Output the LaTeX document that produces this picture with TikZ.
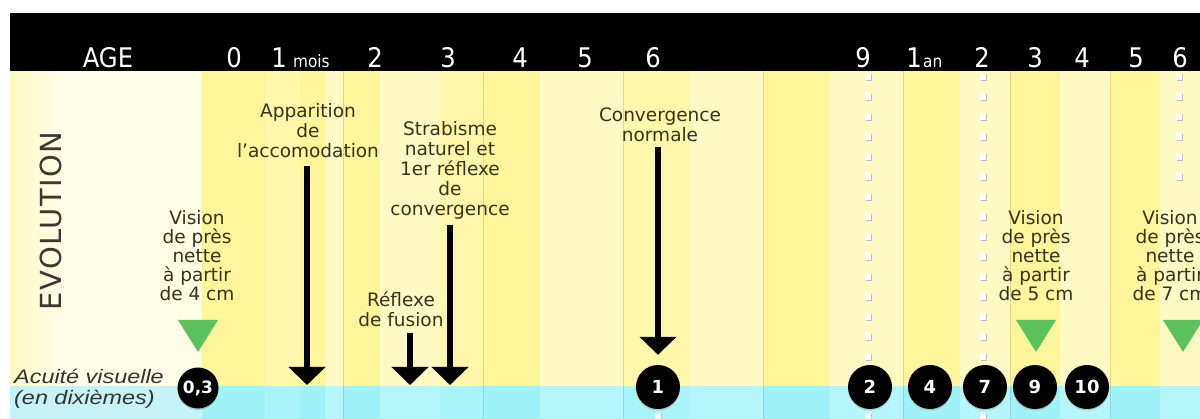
\documentclass[tikz,border=0pt]{standalone}
\usepackage{fontspec}
\setmainfont{DejaVu Sans}
\newfontfamily\agefont{DejaVu Sans Condensed}
\newfontfamily\acufont{Liberation Sans}
\usetikzlibrary{arrows.meta,shadows}

\definecolor{ya}{HTML}{FFF59A}
\definecolor{yb}{HTML}{FFF7AA}
\definecolor{yc}{HTML}{FFFAC3}
\definecolor{cream}{HTML}{FFFDE6}
\definecolor{ca}{HTML}{9FF3F8}
\definecolor{cb}{HTML}{A9F4F9}
\definecolor{cc}{HTML}{B5F6FA}
\definecolor{cpale}{HTML}{C6F3F5}
\definecolor{lblc}{HTML}{34341A}
\definecolor{evoc}{HTML}{3A3A32}
\definecolor{tric}{HTML}{5BC25E}

\tikzset{
  lbl/.style={align=center, inner sep=0pt, text=lblc,
    font=\fontsize{18.5}{20}\selectfont},
  vis/.style={align=center, inner sep=0pt, text=lblc,
    font=\fontsize{18.5}{19}\selectfont},
  agenum/.style={anchor=base, inner sep=0pt, text=white,
    font=\agefont\fontsize{27}{28}\selectfont},
  ageunit/.style={anchor=base west, inner sep=0pt, text=white,
    font=\agefont\fontsize{17}{18}\selectfont},
  circ/.style={circle, fill=black, minimum size=44pt, inner sep=0pt,
    text=white, font=\bfseries\fontsize{18}{18}\selectfont,
    drop shadow={opacity=0.35, shadow xshift=0pt, shadow yshift=-1.5pt}},
  bigarrow/.style={line width=6pt, draw=black,
    -{Triangle[width=36pt, length=18pt]}},
  dotline/.style={draw=white, line width=6pt, dash pattern=on 7pt off 13pt},
  dotshade/.style={draw=black!25, line width=6pt, dash pattern=on 7pt off 13pt},
  gridline/.style={draw=black, draw opacity=0.12, line width=1pt},
  marker/.style={fill=tric},
}

\begin{document}
\begin{tikzpicture}[x=1pt, y=-1pt]
\useasboundingbox (0,0) rectangle (1200,419);
\clip (0,0) rectangle (1200,419);
\fill[white] (0,0) rectangle (1200,419);

% left legend column
\shade[left color=yb!60!cream, right color=cream] (10,71) rectangle (60,386);
\fill[cream] (60,71) rectangle (202,386);
\fill[cpale] (10,386) rectangle (202,419);

% yellow and cyan stripes of the time scale
\foreach \xa/\xb/\ycol/\ccol in {
  202/265/ya/ca, 265/300/yb/cb, 300/325/ya/ca, 325/343/yc/cc,
  343/380/ya/ca, 380/440/yc/cc, 440/483/yb/cb, 483/540/ya/ca,
  540/623/yc/cc, 623/690/yb/cb, 690/763/yc/cc, 763/830/ya/ca,
  830/903/yc/cc, 903/960/ya/ca, 960/1010/yc/cc, 1010/1060/ya/ca,
  1060/1110/yc/cc, 1110/1160/ya/ca, 1160/1200/yc/cc} {
  \fill[\ycol] (\xa,71) rectangle (\xb,386);
  \fill[\ccol] (\xa,386) rectangle (\xb,419);
}

% thin column separators
\foreach \x in {343,483,623,763,903,1010,1110}
  \draw[gridline] (\x,71) -- (\x,419);

% dotted white guides
\coordinate (g9a) at (868,73);  \coordinate (g9b) at (868,419);
\coordinate (g2a) at (983,73);  \coordinate (g2b) at (983,419);
\coordinate (g6a) at (1179,73); \coordinate (g6b) at (1179,182);
\coordinate (g1a) at (658,413); \coordinate (g1b) at (658,420);
\foreach \p/\q in {g9a/g9b, g2a/g2b, g6a/g6b, g1a/g1b} {
  \draw[dotshade] ([shift={(1,1)}]\p) -- ([shift={(1,1)}]\q);
  \draw[dotline] (\p) -- (\q);
}

% header band
\fill[black] (10,13) rectangle (1200,71);
\node[agenum] (hage) at (108,68) {AGE};
\node[agenum] (h0) at (234,68) {0};
\node[agenum] (h1) at (279,68) {1};
\node[ageunit] (hmois) at (293,68) {mois};
\node[agenum] (h2) at (375,68) {2};
\node[agenum] (h3) at (448,68) {3};
\node[agenum] (h4) at (520,68) {4};
\node[agenum] (h5) at (585,68) {5};
\node[agenum] (h6) at (653,68) {6};
\node[agenum] (h9) at (863,68) {9};
\node[agenum] (h1an) at (914,68) {1};
\node[ageunit] (han) at (923,68) {an};
\node[agenum] (hy2) at (982,68) {2};
\node[agenum] (hy3) at (1035,68) {3};
\node[agenum] (hy4) at (1082,68) {4};
\node[agenum] (hy5) at (1136,68) {5};
\node[agenum] (hy6) at (1180,68) {6};

% side titles
\node[rotate=90, inner sep=0pt, text=evoc,
  font=\fontsize{29}{30}\selectfont\addfontfeature{LetterSpace=5}]
  (evo) at (51,221) {EVOLUTION};
\node[anchor=west, align=left, inner sep=0pt, text=black!80,
  font=\acufont\itshape\fontsize{19.5}{21}\selectfont]
  (acu) at (14,389) {\scalebox{1.2}[1]{Acuité visuelle}\\\scalebox{1.2}[1]{(en dixièmes)}};

% milestone labels
\node[lbl] (appr) at (308,131) {Apparition\\de\\l'accomodation};
\node[lbl] (strab) at (450,170) {Strabisme\\naturel et\\1er réflexe\\de\\convergence};
\node[lbl] (conv) at (660,125) {Convergence\\normale};
\node[lbl] (fus) at (401,309) {Réflexe\\de fusion};
\node[vis] (v4) at (197,256) {Vision\\de près\\nette\\à partir\\de 4 cm};
\node[vis] (v5) at (1036,256) {Vision\\de près\\nette\\à partir\\de 5 cm};
\node[vis] (v7) at (1170,256) {Vision\\de près\\nette\\à partir\\de 7 cm};

% near-vision markers
\fill[marker] (178,320) -- (218,320) -- (198,352) -- cycle;
\fill[marker] (1016,320) -- (1056,320) -- (1036,352) -- cycle;
\fill[marker] (1163,320) -- (1203,320) -- (1183,352) -- cycle;

% visual acuity values
\node[circ, minimum size=41pt, font=\bfseries\fontsize{17}{17}\selectfont] (c03) at (198,388) {0,3};
\node[circ] (c1) at (658,387) {1};
\node[circ] (c2) at (870,387) {2};
\node[circ] (c4) at (930,387) {4};
\node[circ] (c7) at (985,387) {7};
\node[circ] (c9) at (1035,387) {9};
\node[circ] (c10) at (1087,387) {10};

% milestone arrows
\coordinate (apprTop) at (307,166);  \coordinate (apprTip) at (307,385);
\coordinate (strabTop) at (450,225); \coordinate (strabTip) at (450,385);
\coordinate (fusTop) at (410,333);   \coordinate (fusTip) at (410,385);
\coordinate (convTop) at (658,147);
\draw[bigarrow] (apprTop) -- (apprTip);
\draw[bigarrow] (strabTop) -- (strabTip);
\draw[bigarrow] (fusTop) -- (fusTip);
\draw[bigarrow, shorten >=10pt] (convTop) -- (c1.north);
\end{tikzpicture}
\end{document}
